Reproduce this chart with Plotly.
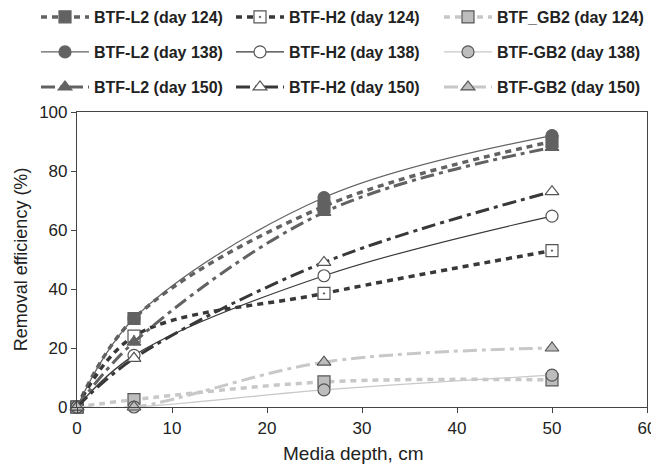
import plotly.graph_objects as go

depth = [0, 6, 26, 50]

l2_124 = [0, 30, 68, 90]
h2_124 = [0, 24, 38.5, 53]
gb2_124 = [0, 2.5, 8.5, 9.2]

l2_138 = [0, 30, 71, 92]
h2_138 = [0, 17.5, 44.5, 64.7]
gb2_138 = [0, 0, 5.8, 10.8]

l2_150 = [0, 22, 66, 88]
h2_150 = [0, 16.5, 49, 73]
gb2_150 = [0, 0, 15.2, 20]

names = {
    "l2_124": "BTF-L2 (day 124)", "h2_124": "BTF-H2 (day 124)", "gb2_124": "BTF_GB2 (day 124)",
    "l2_138": "BTF-L2 (day 138)", "h2_138": "BTF-H2 (day 138)", "gb2_138": "BTF-GB2 (day 138)",
    "l2_150": "BTF-L2 (day 150)", "h2_150": "BTF-H2 (day 150)", "gb2_150": "BTF-GB2 (day 150)",
}
x_title = "Media depth, cm"
y_title = "Removal efficiency (%)"

L2C = "#626262"
H2C = "#383838"
GBC = "#c8c8c8"
GBF = "#bdbdbd"
EDGE = "#555555"

DASH124 = "6px,5px"
DASH150 = "14px,5px,4px,5px"

FONT = "Liberation Sans, Arial, sans-serif"
# the page body adds an 8px offset, so the figure is 8px smaller than the window
W, H = 651, 458
ML, MR, MT, MB = 69, 12, 104, 59
col_x = [28, 223, 431]
row_y = [9, 44, 79]

fig = go.Figure()
legend_layouts = {}
counter = [0]

def add(y, name, color, width, dash, symbol, mfill, medge, col, row):
    counter[0] += 1
    key = "legend" if counter[0] == 1 else "legend%d" % counter[0]
    fig.add_trace(go.Scatter(
        x=depth, y=y, name=name, mode="lines+markers",
        line=dict(color=color, width=width, dash=dash, shape="spline", smoothing=1),
        marker=dict(symbol=symbol, size=12, color=mfill, line=dict(color=medge, width=1.2)),
        legend=key, cliponaxis=False, showlegend=True,
    ))
    legend_layouts[key] = dict(
        orientation="h", xref="container", yref="container",
        x=col_x[col] / W, xanchor="left", y=1 - row_y[row] / H, yanchor="middle",
        itemwidth=48, font=dict(family=FONT, size=16, color="#222222", weight="bold"),
        bgcolor="rgba(0,0,0,0)", itemclick=False, itemdoubleclick=False)

# day 124
add(l2_124, names["l2_124"], L2C, 3.5, DASH124, "square", L2C, L2C, 0, 0)
add(h2_124, names["h2_124"], H2C, 3.5, DASH124, "square-dot", "white", EDGE, 1, 0)
add(gb2_124, names["gb2_124"], GBC, 3.5, DASH124, "square", GBF, EDGE, 2, 0)
# day 138
add(l2_138, names["l2_138"], L2C, 1.2, "solid", "circle", L2C, L2C, 0, 1)
add(h2_138, names["h2_138"], H2C, 1.2, "solid", "circle", "white", EDGE, 1, 1)
add(gb2_138, names["gb2_138"], GBC, 1.2, "solid", "circle", GBF, EDGE, 2, 1)
# day 150
add(l2_150, names["l2_150"], L2C, 3, DASH150, "triangle-up", L2C, L2C, 0, 2)
add(h2_150, names["h2_150"], H2C, 3, DASH150, "triangle-up", "white", EDGE, 1, 2)
add(gb2_150, names["gb2_150"], GBC, 3, DASH150, "triangle-up", GBF, EDGE, 2, 2)

plot_h = H - MT - MB
fig.add_annotation(text=x_title, xref="paper", x=0.485, xanchor="center",
                   yref="paper", y=((H - MB) - 445) / plot_h, yanchor="middle",
                   showarrow=False, font=dict(family=FONT, size=19, color="#222222"))

fig.update_layout(
    width=W, height=H, showlegend=True,
    margin=dict(l=ML, r=MR, t=MT, b=MB, autoexpand=False),
    paper_bgcolor="white", plot_bgcolor="white",
    font=dict(family=FONT, size=17, color="#222222"),
    xaxis=dict(range=[0, 60], dtick=10, showgrid=False, zeroline=False,
               showline=True, linecolor="#444", linewidth=1.2, mirror=True,
               ticks="outside", ticklen=5, tickcolor="#444",
               tickfont=dict(size=17)),
    yaxis=dict(range=[0, 100], dtick=20, showgrid=False, zeroline=False,
               showline=True, linecolor="#444", linewidth=1.2, mirror=True,
               ticks="outside", ticklen=5, tickcolor="#444",
               tickfont=dict(size=17),
               title=dict(text=y_title, font=dict(size=18), standoff=6)),
    **legend_layouts,
)

fig.write_html("out.html")
